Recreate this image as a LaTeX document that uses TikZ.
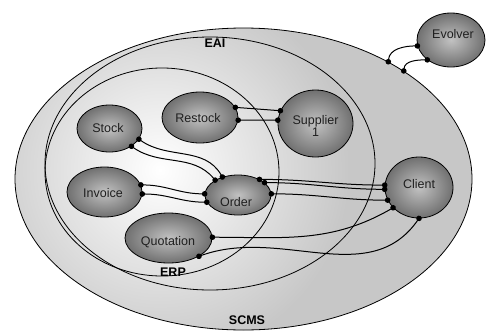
\documentclass[tikz,border=0pt]{standalone}
\usepackage{fontspec}
\setmainfont{Liberation Sans}
\usetikzlibrary{shapes.geometric,arrows.meta}
\begin{document}
\begin{tikzpicture}[x=1pt,y=1pt,
  comp/.style={ellipse, draw=black, line width=0.8pt, inner sep=0pt, shade, shading=radial, inner color=black!24, outer color=black!56},
  txt/.style={inner sep=0pt, text height=9pt, text depth=0pt, font=\fontsize{12.5}{14}\selectfont, text=black!88},
  btxt/.style={inner sep=0pt, text height=9pt, text depth=0pt, font=\fontsize{12.5}{14}\selectfont\bfseries, text=black},
  zone/.style={ellipse, draw=black, line width=0.8pt, inner sep=0pt},
  conn/.style={line width=1pt, {Circle[length=5.5pt]}-{Circle[length=5.5pt]}, shorten <=-2.75pt, shorten >=-2.75pt}
]
\useasboundingbox (0,0) rectangle (486,-332);
% background of SCMS
\fill[black!22] (243.5,-179) ellipse [x radius=228.5, y radius=151];
\begin{scope}
  \clip (243.5,-179) ellipse [x radius=228.5, y radius=151];
  \shade[inner color=white, outer color=black!22] (160,-170) circle (190);
\end{scope}
% zones
\node[zone, minimum width=457, minimum height=302] (scms) at (243.5,-179) {};
\node[zone, minimum width=330, minimum height=253] (eai) at (210,-163.5) {};
\node[zone, minimum width=234, minimum height=208] (erp) at (162,-172) {};
\node[btxt] (eai-t) at (215,-43) {EAI};
\node[btxt] (erp-t) at (173,-271.5) {ERP};
\node[btxt] (scms-t) at (247,-319.5) {SCMS};
% components
\node[comp, minimum width=65, minimum height=47] (stock) at (109.5,-128.5) {};
\node[comp, minimum width=76, minimum height=51] (restock) at (200,-117.5) {};
\node[comp, minimum width=75, minimum height=67] (supplier) at (315.5,-123.5) {};
\node[comp, minimum width=75, minimum height=50] (invoice) at (104.5,-192) {};
\node[comp, minimum width=66, minimum height=40] (order) at (238,-195) {};
\node[comp, minimum width=87, minimum height=50] (quotation) at (168.5,-238) {};
\node[comp, minimum width=68, minimum height=61] (client) at (419,-187.5) {};
\node[comp, minimum width=68, minimum height=54] (evolver) at (451,-40) {};
% texts
\node[txt] (stock-t) at (108,-128) {Stock};
\node[txt] (restock-t) at (198,-118) {Restock};
\node[txt, text height=, text depth=, align=center, anchor=north] (supplier-t) at (315.5,-115) {Supplier\\[-2pt]1};
\node[txt] (invoice-t) at (103,-192.5) {Invoice};
\node[txt] (order-t) at (236,-201.5) {Order};
\node[txt] (quotation-t) at (168,-240.5) {Quotation};
\node[txt] (client-t) at (419,-183.5) {Client};
\node[txt] (evolver-t) at (453,-34) {Evolver};
% connectors
\draw[conn] (restock.16) -- (supplier.160);
\draw[conn] (restock.-4) -- (supplier.175);
\draw[conn] (stock.-20) to[out=-35, in=120] (order.131);
\draw[conn] (stock.-39) to[out=-35, in=130] (order.147);
\draw[conn] (invoice.11) to[out=0, in=180] (order.178);
\draw[conn] (invoice.-3) to[out=0, in=180] (order.193);
\draw[conn] (order.36) to[out=0, in=180] (client.176);
\draw[conn] (order.25) to[out=0, in=180] (client.183);
\draw[conn] (order.2) to[out=0, in=180] (client.202);
\draw[conn] (quotation.1) to[out=0, in=210] (client.218);
\draw[conn] (quotation.-31) to[out=20, in=235] (client.270);
\draw[conn] (scms.39.4) to[out=85, in=180] (evolver.190);
\draw[conn] (scms.34.3) to[out=85, in=180] (evolver.220);
\end{tikzpicture}
\end{document}
